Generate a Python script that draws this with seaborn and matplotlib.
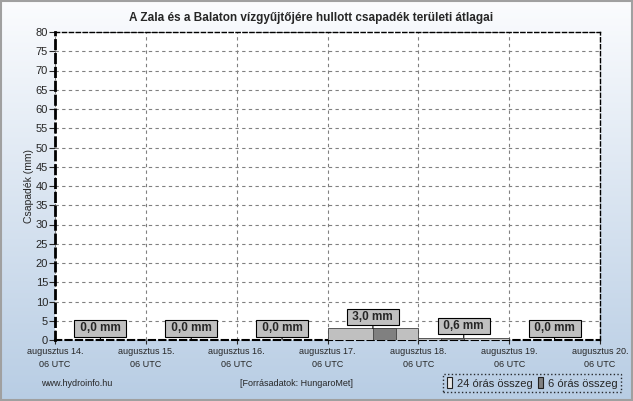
import numpy as np
import pandas as pd
import matplotlib
matplotlib.use("Agg")
import matplotlib.pyplot as plt
from matplotlib.patches import Patch, Rectangle
import seaborn as sns

# napi (24 órás) összegek, 06 UTC - 06 UTC
day_labels = ["augusztus 14.", "augusztus 15.", "augusztus 16.", "augusztus 17.",
              "augusztus 18.", "augusztus 19.", "augusztus 20."]
daily_sum = [0.0, 0.0, 0.0, 3.0, 0.6, 0.0]
# 6 órás összegek (4 db / nap)
six_hour_sum = [0.0, 0.0, 0.0, 0.0,
                0.0, 0.0, 0.0, 0.0,
                0.0, 0.0, 0.0, 0.0,
                0.0, 0.0, 3.0, 0.0,
                0.0, 0.6, 0.0, 0.0,
                0.0, 0.0, 0.0, 0.0]

title = "A Zala és a Balaton vízgyűjtőjére hullott csapadék területi átlagai"

sns.set_style("white")
plt.rcParams['font.family'] = ['Liberation Sans', 'DejaVu Sans']

daily = pd.DataFrame({"nap": np.arange(len(daily_sum)) + 0.5, "mm": daily_sum})
six = pd.DataFrame({"nap": (np.arange(len(six_hour_sum)) + 0.5) / 4, "mm": six_hour_sum})

fig = plt.figure(figsize=(6.33, 4.01), dpi=100)

# háttér színátmenet
bg = fig.add_axes([0, 0, 1, 1], zorder=-10)
grad = np.linspace(0, 1, 256).reshape(-1, 1)
cmap = matplotlib.colors.LinearSegmentedColormap.from_list("bg", ["#fbfcfe", "#b8cde4"])
bg.imshow(grad, aspect="auto", cmap=cmap, extent=[0, 1, 0, 1])
bg.set_axis_off()
fig.patches.append(Rectangle((0.001, 0.002), 0.997, 0.995, transform=fig.transFigure,
                             fill=False, ec="#a0a0a0", lw=1.5))

ax = fig.add_axes([55 / 633, 61 / 401, 545 / 633, 308 / 401])
ax.set_facecolor("white")

sns.barplot(data=daily, x="nap", y="mm", native_scale=True, width=1, color="#c0c0c0",
            saturation=1, edgecolor="#404040", linewidth=0.6, errorbar=None, ax=ax, zorder=3)
sns.barplot(data=six, x="nap", y="mm", native_scale=True, width=1, color="#808080",
            saturation=1, edgecolor="#404040", linewidth=0.6, errorbar=None, ax=ax, zorder=4)

for x, v in zip(daily["nap"], daily["mm"]):
    ax.annotate(" " + f"{v:.1f}".replace(".", ",") + " mm ", xy=(x, v), xytext=(0, 4),
                textcoords="offset points", ha="center", va="bottom", fontsize=8.5,
                fontweight="bold", zorder=6,
                bbox=dict(boxstyle="square,pad=0.2", fc="#c0c0c0", ec="black", lw=0.8),
                arrowprops=dict(arrowstyle="-", color="black", lw=0.8, shrinkA=0, shrinkB=0))

ax.set_xlim(0, 6)
ax.set_ylim(0, 80)
ax.set_yticks(range(0, 81, 5))
ax.set_xticks(range(7))
ax.set_xticklabels([d + "\n06 UTC" for d in day_labels], fontsize=6.5, linespacing=1.6)
ax.tick_params(axis="y", labelsize=8, length=4, width=0.8, left=True, pad=1)
ax.tick_params(axis="x", length=3, width=0.8, bottom=True, pad=2)
ax.set_xlabel("")
ax.set_ylabel("Csapadék (mm)", fontsize=7.5, labelpad=1)
ax.grid(True, color="#808080", ls=(0, (3, 3)), lw=0.8, zorder=1)
ax.set_axisbelow(True)
for name, sp in ax.spines.items():
    sp.set_visible(True)
    sp.set_color("black")
    sp.set_linestyle((0, (3, 2)))
    sp.set_linewidth(1.0)
ax.spines["left"].set_linewidth(2.0)
ax.spines["bottom"].set_linewidth(1.5)

fig.text(311 / 633, 1 - 18 / 401, title, ha="center", va="center", fontsize=8.5, fontweight="bold")
fig.text(77 / 633, 1 - 384 / 401, "www.hydroinfo.hu", ha="center", va="center", fontsize=6.5)
fig.text(297 / 633, 1 - 384 / 401, "[Forrásadatok: HungaroMet]", ha="center", va="center", fontsize=6.5)

handles = [Patch(fc="#e6e6e6", ec="#202020", lw=0.8, label="24 órás összeg"),
           Patch(fc="#808080", ec="#202020", lw=0.8, label="6 órás összeg")]
leg = fig.legend(handles=handles, loc="center", bbox_to_anchor=(532 / 633, 1 - 383 / 401),
                 ncol=2, fontsize=8, frameon=True, fancybox=False, handlelength=0.5,
                 handleheight=1.1, handletextpad=0.4, columnspacing=0.5, borderpad=0.35)
leg.get_frame().set_edgecolor("black")
leg.get_frame().set_linestyle(":")
leg.get_frame().set_facecolor("none")
leg.get_frame().set_linewidth(1.0)

fig.savefig("out.png", dpi=100)
